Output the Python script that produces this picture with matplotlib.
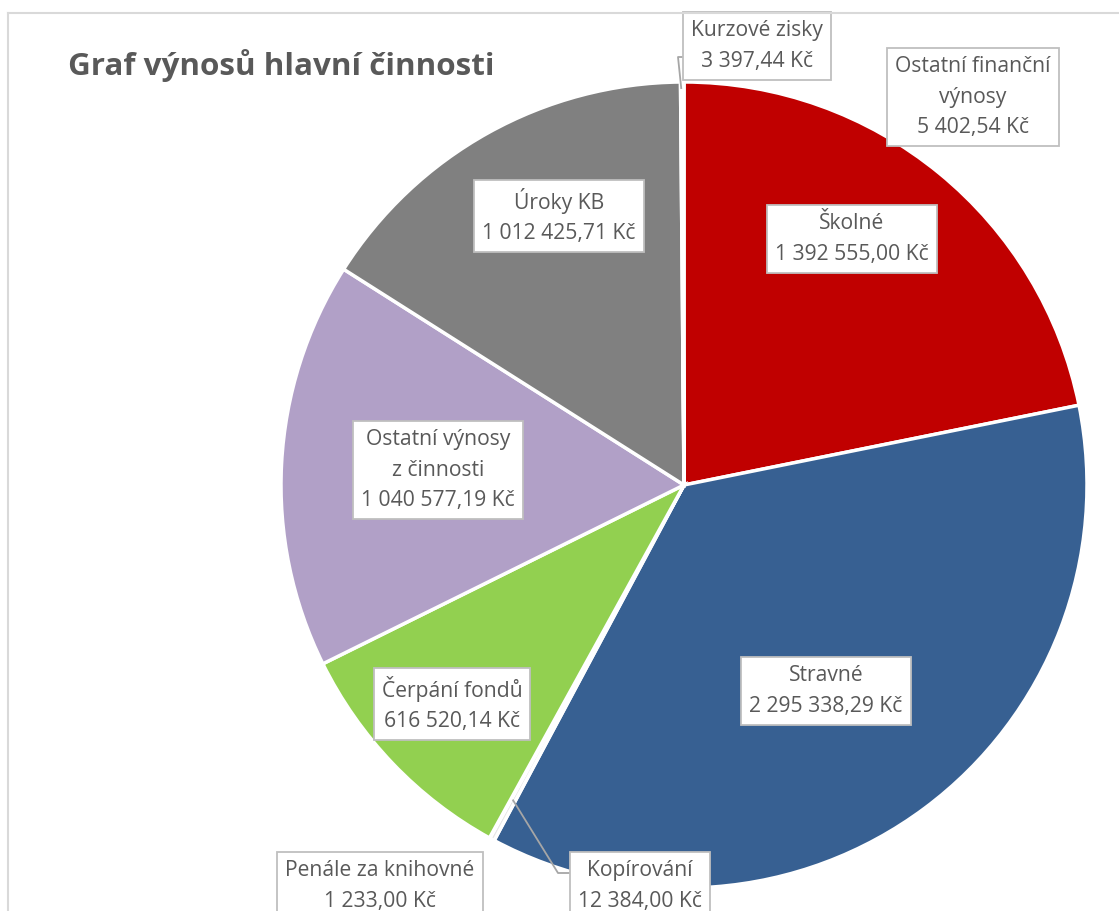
import numpy as np
import matplotlib.pyplot as plt
from matplotlib.lines import Line2D

plt.rcParams['font.family'] = ['Open Sans', 'DejaVu Sans']

# data (order clockwise from 12 o'clock, as in the Excel chart)
categories = ["Školné", "Stravné", "Kopírování", "Penále za knihovné", "Čerpání fondů",
              "Ostatní výnosy\nz činnosti", "Úroky KB", "Kurzové zisky",
              "Ostatní finanční\nvýnosy"]
values = [1392555.00, 2295338.29, 12384.00, 1233.00, 616520.14,
          1040577.19, 1012425.71, 3397.44, 5402.54]
colors = ["#C00000", "#376092", "#E6E6E6", "#D8EDC0", "#92D050",
          "#B1A0C7", "#808080", "#EDEDED", "#F2F2F2"]
title = "Graf výnosů hlavní činnosti"

# label box centres in pixel coords (x from left, y from top)
label_pos = [(852, 239), (826, 691), (640, 886), (380, 886), (452, 704),
             (438, 470), (559, 216), (757, 46), (973, 97)]

W, H = 1119, 911
fig = plt.figure(figsize=(W / 100, H / 100), dpi=100)
ax = fig.add_axes([0, 0, 1, 1])

cx, cy, r = 684, H - 485, 403
wedges, _ = ax.pie(values, colors=colors, startangle=90, counterclock=False,
                   center=(cx, cy), radius=r, frame=True,
                   wedgeprops=dict(edgecolor='white', linewidth=2.5))
ax.set_xlim(0, W)
ax.set_ylim(0, H)
ax.set_aspect('equal')
ax.axis('off')

def fmt(v):
    return f"{v:,.2f}".replace(",", " ").replace(".", ",") + " Kč"

for name, v, (px, py) in zip(categories, values, label_pos):
    ax.text(px, H - py, name + "\n" + fmt(v), ha='center', va='center',
            fontsize=15.2, color='#595959', linespacing=1.62, zorder=5,
            bbox=dict(boxstyle='square,pad=0.38', facecolor='white',
                      edgecolor='#BFBFBF', linewidth=1.3))

# leader lines for the tiny slices
def wedge_point(w, frac):
    a = np.deg2rad((w.theta1 + w.theta2) / 2)
    return cx + frac * r * np.cos(a), cy + frac * r * np.sin(a)

kx, ky = wedge_point(wedges[7], 0.985)
ax.plot([689, 678, kx], [H - 57, H - 57, ky], color='#A6A6A6', lw=1.3, zorder=4)
px_, py_ = wedge_point(wedges[2], 0.89)
ax.plot([570, 558, px_], [H - 873, H - 873, py_], color='#A6A6A6', lw=1.3, zorder=4)

# chart area border (left and top visible)
fig.add_artist(Line2D([8 / W, 8 / W], [0, 1 - 13 / H], color='#D9D9D9', lw=1.5))
fig.add_artist(Line2D([8 / W, 1], [1 - 13 / H, 1 - 13 / H], color='#D9D9D9', lw=1.5))

ax.text(68, H - 65, title, ha='left', va='center', fontsize=22.6,
        fontweight='bold', color='#595959')

fig.savefig("out.png", dpi=100)
